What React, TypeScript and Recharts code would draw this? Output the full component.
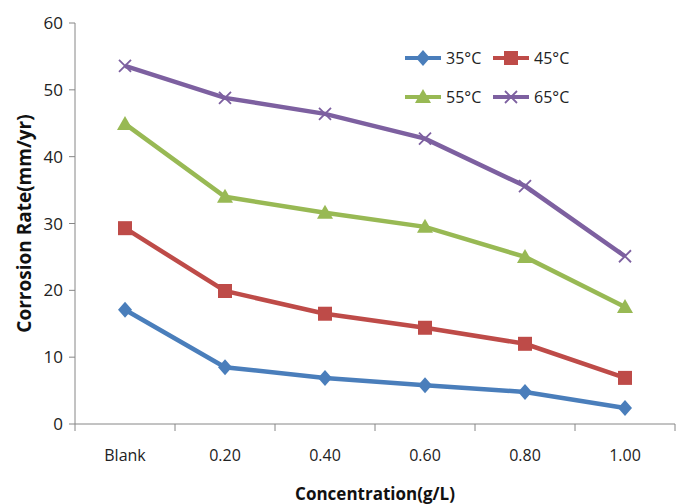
import React from "react";
import { LineChart, Line, XAxis, YAxis, Label } from "recharts";

const categories = ["Blank", "0.20", "0.40", "0.60", "0.80", "1.00"];
const rate35 = [17.1, 8.5, 6.9, 5.8, 4.8, 2.4];
const rate45 = [29.3, 19.9, 16.5, 14.4, 12.0, 6.9];
const rate55 = [44.9, 34.0, 31.6, 29.5, 25.0, 17.5];
const rate65 = [53.6, 48.8, 46.4, 42.7, 35.6, 25.1];
const yTicks = [0, 10, 20, 30, 40, 50, 60];

const FONT = "'Open Sans', 'Liberation Sans', sans-serif";
const AXIS = "#868686";
const W = 680;
const H = 504;
const LEFT = 75;
const RIGHT = 5;
const HALF_BAND = (W - LEFT - RIGHT) / categories.length / 2;

type Shape = "diamond" | "square" | "triangle" | "x";

const series: { key: string; name: string; color: string; shape: Shape }[] = [
  { key: "t35", name: "35°C", color: "#4A7EBB", shape: "diamond" },
  { key: "t45", name: "45°C", color: "#BE4B48", shape: "square" },
  { key: "t55", name: "55°C", color: "#98B954", shape: "triangle" },
  { key: "t65", name: "65°C", color: "#7D60A0", shape: "x" },
];

const data = categories.map((c, i) => ({
  cat: c,
  t35: rate35[i],
  t45: rate45[i],
  t55: rate55[i],
  t65: rate65[i],
}));

const Marker = ({ cx, cy, shape, color }: { cx: number; cy: number; shape: Shape; color: string }) => {
  if (shape === "diamond")
    return <path d={`M${cx},${cy - 8} L${cx + 7},${cy} L${cx},${cy + 8} L${cx - 7},${cy} Z`} fill={color} />;
  if (shape === "square") return <rect x={cx - 7} y={cy - 7} width={14} height={14} fill={color} />;
  if (shape === "triangle")
    return <path d={`M${cx},${cy - 8} L${cx + 8},${cy + 6} L${cx - 8},${cy + 6} Z`} fill={color} />;
  return (
    <path
      d={`M${cx - 6},${cy - 6} L${cx + 6},${cy + 6} M${cx - 6},${cy + 6} L${cx + 6},${cy - 6}`}
      stroke={color}
      strokeWidth={1.8}
    />
  );
};

const makeDot = (shape: Shape, color: string) => (p: any) =>
  <Marker key={`${shape}-${p.index}`} cx={p.cx} cy={p.cy} shape={shape} color={color} />;

// Excel-style category axis: tick marks between categories, labels centred
const CatTick = (p: any) => {
  const { x, y, payload, index } = p;
  const last = index === categories.length - 1;
  return (
    <g>
      <line x1={x - HALF_BAND} y1={y} x2={x - HALF_BAND} y2={y + 7} stroke={AXIS} />
      {last && <line x1={x + HALF_BAND} y1={y} x2={x + HALF_BAND} y2={y + 7} stroke={AXIS} />}
      <text x={x} y={y + 37} textAnchor="middle" fontSize={16} fill="#222" fontFamily={FONT}>
        {payload.value}
      </text>
    </g>
  );
};

const LegendBox = () => (
  <svg width={200} height={70} style={{ position: "absolute", left: 405, top: 43 }}>
    {series.map((s, i) => {
      const col = i % 2;
      const row = Math.floor(i / 2);
      const x = col * 88;
      const y = 15 + row * 39;
      return (
        <g key={s.key}>
          <line x1={x} y1={y} x2={x + 36} y2={y} stroke={s.color} strokeWidth={4} />
          <Marker cx={x + 18} cy={y} shape={s.shape} color={s.color} />
          <text x={x + 41} y={y + 6} fontSize={16} fill="#222" fontFamily={FONT}>
            {s.name}
          </text>
        </g>
      );
    })}
  </svg>
);

export default function App() {
  return (
    <div style={{ position: "absolute", left: 0, top: 0, width: W, height: H, background: "#fff" }}>
      <LineChart width={W} height={H} data={data} margin={{ top: 23, right: RIGHT, left: 0, bottom: 0 }}>
        <XAxis
          dataKey="cat"
          height={80}
          stroke={AXIS}
          padding={{ left: HALF_BAND, right: HALF_BAND }}
          tick={<CatTick />}
          tickLine={false}
          tickSize={0}
          tickMargin={0}
          interval={0}
        >
          <Label
            value="Concentration(g/L)"
            position="insideBottom"
            offset={4}
            style={{ fill: "#111", fontSize: 17, fontWeight: 700, fontFamily: FONT }}
          />
        </XAxis>
        <YAxis
          width={LEFT}
          domain={[0, 60]}
          ticks={yTicks}
          stroke={AXIS}
          tick={{ fill: "#222", fontSize: 17, fontFamily: FONT }}
          tickSize={6}
          tickMargin={6}
        >
          <Label
            value="Corrosion Rate(mm/yr)"
            angle={-90}
            position="insideLeft"
            offset={24}
            style={{ textAnchor: "middle", fill: "#111", fontSize: 19, fontWeight: 700, fontFamily: FONT }}
          />
        </YAxis>
        {series.map((s) => (
          <Line
            key={s.key}
            dataKey={s.key}
            name={s.name}
            stroke={s.color}
            strokeWidth={4.5}
            dot={makeDot(s.shape, s.color)}
            activeDot={false}
            isAnimationActive={false}
          />
        ))}
      </LineChart>
      <LegendBox />
    </div>
  );
}
